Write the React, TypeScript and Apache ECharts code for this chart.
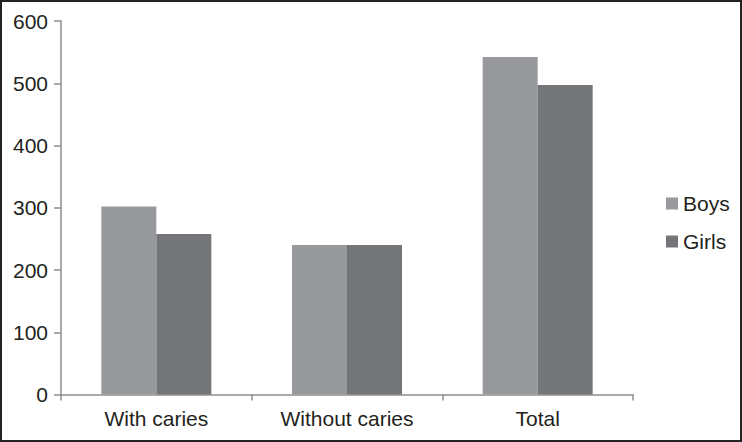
import React, { useEffect, useRef } from "react";
import * as echarts from "echarts";

const categories = ["With caries", "Without caries", "Total"];
const boys = [302, 240, 542];
const girls = [258, 240, 497];
const seriesNames = ["Boys", "Girls"];

export default function App() {
  const ref = useRef<HTMLDivElement>(null);
  useEffect(() => {
    const chart = echarts.init(ref.current!, null, { renderer: "svg" });
    const axisColor = "#8e8e8e";
    const textColor = "#231f20";
    const font = "'Liberation Sans', Arial, sans-serif";
    chart.setOption({
      animation: false,
      backgroundColor: "#ffffff",
      grid: { left: 61, right: 109, top: 21, bottom: 47.5, containLabel: false },
      legend: {
        orient: "vertical",
        left: 661,
        top: 188,
        itemWidth: 12,
        itemHeight: 12,
        itemGap: 17,
        icon: "rect",
        textStyle: { fontSize: 21, color: textColor, fontFamily: font, lineHeight: 21, padding: [0, 0, 0, 0] },
        data: seriesNames,
      },
      xAxis: {
        type: "category",
        data: categories,
        axisLine: { lineStyle: { color: axisColor, width: 1.5 } },
        axisTick: { show: true, length: 6, lineStyle: { color: axisColor, width: 1.5 } },
        axisLabel: { fontSize: 21, color: textColor, fontFamily: font, margin: 13 },
      },
      yAxis: {
        type: "value",
        min: 0,
        max: 600,
        interval: 100,
        splitLine: { show: false },
        axisLine: { show: true, lineStyle: { color: axisColor, width: 1.5 } },
        axisTick: { show: true, length: 7, lineStyle: { color: axisColor, width: 1.5 } },
        axisLabel: { fontSize: 21, color: textColor, fontFamily: font, margin: 13 },
      },
      series: [
        { name: seriesNames[0], type: "bar", data: boys, barWidth: 55, barGap: "0%", itemStyle: { color: "#98999d" } },
        { name: seriesNames[1], type: "bar", data: girls, barWidth: 55, barGap: "0%", itemStyle: { color: "#747579" } },
      ],
      graphic: [
        {
          type: "rect",
          shape: { x: 1, y: 1, width: 740, height: 440 },
          style: { fill: "none", stroke: "#222222", lineWidth: 2 },
          silent: true,
        },
      ],
    });
    return () => chart.dispose();
  }, []);
  return (
    <div
      ref={ref}
      style={{ position: "fixed", left: 0, top: 0, width: 742, height: 442 }}
    />
  );
}
